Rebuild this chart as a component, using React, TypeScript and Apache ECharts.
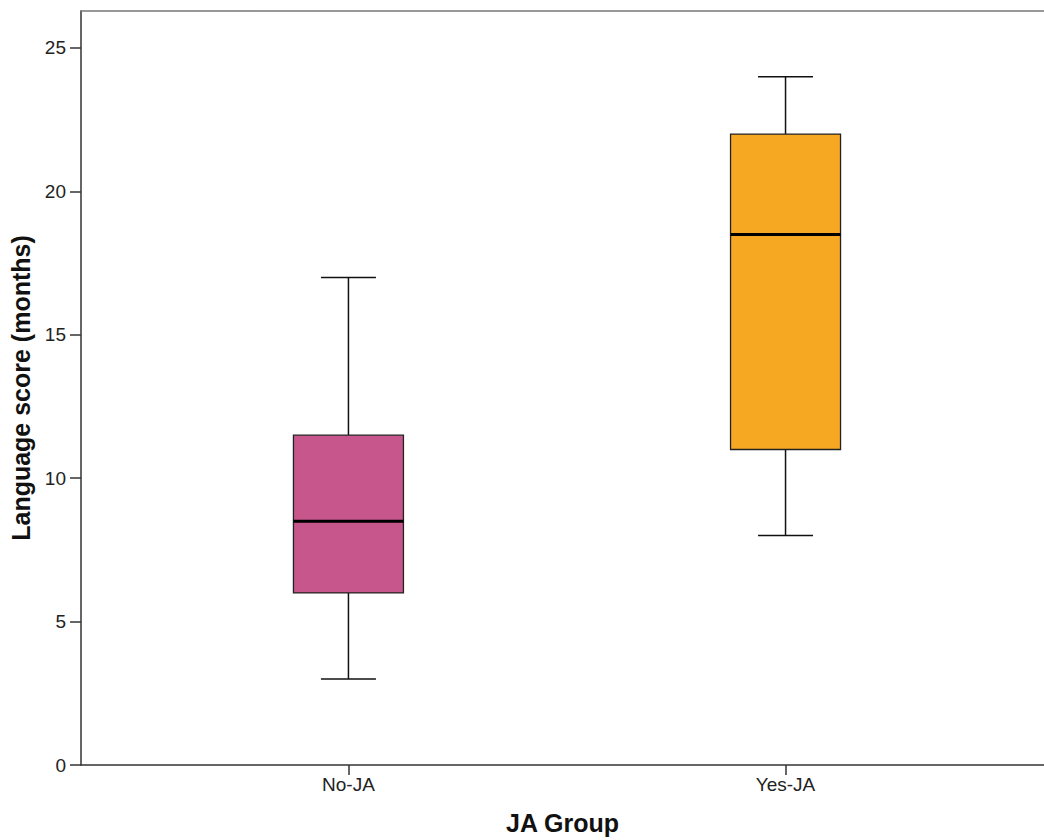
import React, { useEffect, useRef } from "react";
import * as echarts from "echarts";

const CATEGORIES = ["No-JA", "Yes-JA"];
const MINS = [3, 8];
const Q1S = [6, 11];
const MEDIANS = [8.5, 18.5];
const Q3S = [11.5, 22];
const MAXS = [17, 24];
const Y_TICKS = [0, 5, 10, 15, 20, 25];
const COLORS = ["#C6568C", "#F7A823"];

const FONT = "'Liberation Sans', Arial, sans-serif";

export default function App() {
  const ref = useRef<HTMLDivElement>(null);
  useEffect(() => {
    if (!ref.current) return;
    const chart = echarts.init(ref.current, null, { renderer: "svg" });
    const data = CATEGORIES.map((_, i) => [i + 1, MINS[i], Q1S[i], MEDIANS[i], Q3S[i], MAXS[i]]);
    const BOX_HALF = 55;
    const CAP_HALF = 27.5;
    const X_MIN = 0.38813;
    const X_MAX = 2.59133;
    chart.setOption({
      animation: false,
      backgroundColor: "#ffffff",
      grid: {
        left: 81,
        right: 0,
        top: 11,
        bottom: 74,
        show: false,
      },
      xAxis: [
        {
          type: "value",
          min: X_MIN,
          max: X_MAX,
          name: "JA Group",
          nameLocation: "middle",
          nameGap: 45,
          nameTextStyle: { fontFamily: FONT, fontSize: 25, fontWeight: "bold", color: "#111" },
          axisLine: { show: true, onZero: false, lineStyle: { color: "#333", width: 1.5 } },
          axisTick: { show: true, length: 10, customValues: [1, 2], lineStyle: { color: "#333", width: 1.5 } },
          axisLabel: {
            customValues: [1, 2],
            formatter: (v: number) => CATEGORIES[Math.round(v) - 1] ?? "",
            fontFamily: FONT,
            fontSize: 19,
            color: "#222",
            margin: 10,
          },
          splitLine: { show: false },
        },
        {
          type: "value",
          position: "top",
          min: X_MIN,
          max: X_MAX,
          axisLine: { show: true, onZero: false, lineStyle: { color: "#777", width: 1.5 } },
          axisTick: { show: false },
          axisLabel: { show: false },
          splitLine: { show: false },
        },
      ],
      yAxis: {
        type: "value",
        min: 0,
        max: 26.29,
        interval: 5,
        name: "Language score (months)",
        nameLocation: "middle",
        nameGap: 44,
        nameTextStyle: { fontFamily: FONT, fontSize: 25, fontWeight: "bold", color: "#111" },
        axisLine: { show: true, onZero: false, lineStyle: { color: "#333", width: 1.5 } },
        axisTick: { show: true, length: 11, customValues: Y_TICKS, lineStyle: { color: "#333", width: 1.5 } },
        axisLabel: {
          customValues: Y_TICKS,
          fontFamily: FONT,
          fontSize: 19,
          color: "#222",
          margin: 15,
        },
        splitLine: { show: false },
      },
      series: [
        {
          type: "custom",
          xAxisIndex: 0,
          data,
          encode: { x: 0, y: [1, 2, 3, 4, 5] },
          renderItem: (params: any, api: any) => {
            const x = api.value(0);
            const lo = api.coord([x, api.value(1)]);
            const q1 = api.coord([x, api.value(2)]);
            const med = api.coord([x, api.value(3)]);
            const q3 = api.coord([x, api.value(4)]);
            const hi = api.coord([x, api.value(5)]);
            const cx = lo[0];
            const color = COLORS[params.dataIndex];
            const lineStyle = { stroke: "#111", lineWidth: 1.5 };
            return {
              type: "group",
              children: [
                { type: "line", shape: { x1: cx, y1: lo[1], x2: cx, y2: q1[1] }, style: lineStyle },
                { type: "line", shape: { x1: cx, y1: q3[1], x2: cx, y2: hi[1] }, style: lineStyle },
                { type: "line", shape: { x1: cx - CAP_HALF, y1: lo[1], x2: cx + CAP_HALF, y2: lo[1] }, style: lineStyle },
                { type: "line", shape: { x1: cx - CAP_HALF, y1: hi[1], x2: cx + CAP_HALF, y2: hi[1] }, style: lineStyle },
                {
                  type: "rect",
                  shape: { x: cx - BOX_HALF, y: q3[1], width: BOX_HALF * 2, height: q1[1] - q3[1] },
                  style: { fill: color, stroke: "#222", lineWidth: 1.3 },
                },
                {
                  type: "line",
                  shape: { x1: cx - BOX_HALF, y1: med[1], x2: cx + BOX_HALF, y2: med[1] },
                  style: { stroke: "#000", lineWidth: 3 },
                },
              ],
            };
          },
        },
      ],
    });
    return () => chart.dispose();
  }, []);
  return (
    <div
      ref={ref}
      style={{ position: "fixed", left: 0, top: 0, width: 1044, height: 840, background: "#fff" }}
    />
  );
}
